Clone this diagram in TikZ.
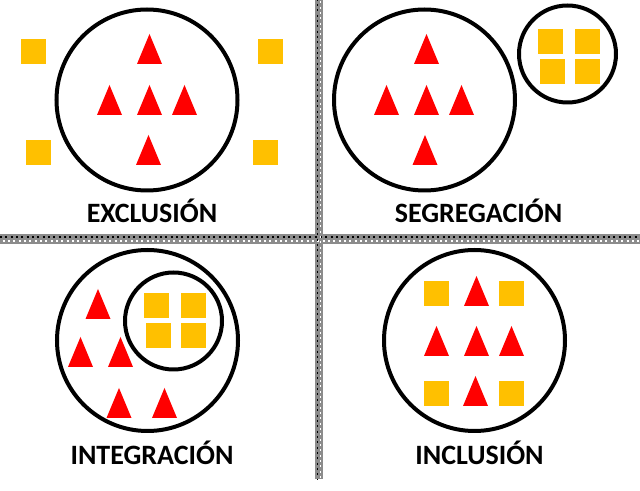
\documentclass[tikz,border=0pt]{standalone}
\usepackage{fontspec}
\setmainfont{Carlito}
\usepackage{tikz}

\definecolor{trired}{RGB}{255,0,0}
\definecolor{sqgold}{RGB}{255,192,0}

\tikzset{
  ring/.style={line width=3pt},
  tri/.style={fill=trired},
  sq/.style={fill=sqgold},
  divider/.style={fill=black!45},
  speck/.style={line width=1.2pt, dash pattern=on 1.5pt off 2.5pt},
  caption/.style={anchor=base, inner sep=0pt, font=\bfseries\fontsize{21}{25}\selectfont}
}

\begin{document}
\begin{tikzpicture}[x=0.75pt, y=-0.75pt]
    \useasboundingbox (0,0) rectangle (640,491);

    % dividers
    \fill [divider] (0,234) rectangle (640,244);
    \fill [divider] (315,0) rectangle (323,479);
    \draw [speck, black] (0,237) -- (640,237);
    \draw [speck, white, dash phase=2pt] (0,241) -- (640,241);
    \draw [speck, black, dash phase=1pt] (317.5,0) -- (317.5,479);
    \draw [speck, white, dash phase=3pt] (320.5,0) -- (320.5,479);

    % circles
    \draw [ring] (147,100) circle (90.5);
    \draw [ring] (424.5,100) circle (90.5);
    \draw [ring] (567.5,54) circle (48.5);
    \draw [ring] (147.5,340.5) circle (90.5);
    \draw [ring] (173.5,321) circle (48.5);
    \draw [ring] (474.5,340.5) circle (90.5);

    % squares (top left corner)
    \foreach \x/\y in {21/39, 258/39, 26/140, 253/140,
                       538/29, 575/29, 540/59, 575/59,
                       144/293, 181/293, 146/323, 181/323,
                       424/281, 499/281, 424/381, 499/381}
        \fill [sq] (\x,\y) rectangle ++(25,25);

    % triangles (apex)
    \foreach \x/\y in {149.5/34, 109.5/85, 149.5/85, 184.5/85, 148.5/135,
                       426.5/34, 386.5/85, 426.5/85, 461.5/85, 425/135,
                       98/289, 80.5/337, 120.5/337, 119/388, 164.5/388,
                       476.5/276, 436.5/326, 476.5/326, 511.5/326, 475.5/376}
        \fill [tri] (\x,\y) -- ++(12.5,30) -- ++(-25,0) -- cycle;

    % labels
    \node [caption] (exclusion) at (152,223) {EXCLUSIÓN};
    \node [caption] (segregacion) at (478.5,223) {SEGREGACIÓN};
    \node [caption] (integracion) at (152,465) {INTEGRACIÓN};
    \node [caption] (inclusion) at (479.5,465) {INCLUSIÓN};
\end{tikzpicture}
\end{document}
